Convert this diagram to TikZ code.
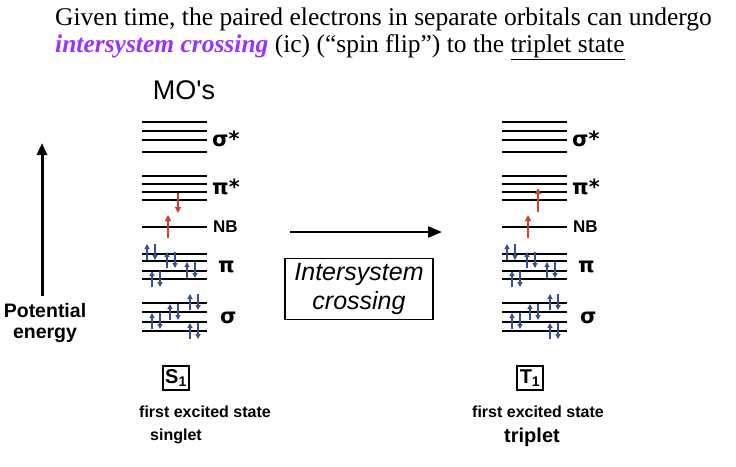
\documentclass[tikz,border=0pt]{standalone}
\usepackage{fontspec}
\setmainfont{Liberation Serif}
\newfontfamily\arial{Liberation Sans}
\newfontfamily\dejav{DejaVu Sans}
\usetikzlibrary{arrows.meta}
\definecolor{purp}{HTML}{9933FF}
\definecolor{eblue}{HTML}{3A4F8C}
\definecolor{ered}{HTML}{D0402A}
\tikzset{
 mo/.style={line width=2.8pt},
 ebl/.style={eblue,line width=1.6pt,-{Triangle[length=5pt,width=5pt]}},
 erd/.style={ered,line width=1.5pt,-{Triangle[length=6pt,width=6pt]}},
 lab/.style={font=\dejav\bfseries\fontsize{21}{22}\selectfont,anchor=west,inner sep=0pt},
 labb/.style={font=\arial\bfseries\fontsize{17}{18}\selectfont,anchor=west,inner sep=0pt},
 captxt/.style={font=\arial\bfseries\fontsize{16}{19}\selectfont,align=center},
 sbox/.style={draw,line width=1.8pt,font=\arial\bfseries\fontsize{20}{22}\selectfont,inner sep=2pt,minimum width=26pt,minimum height=24pt}
}
\newcommand{\mostack}[2]{%
 \begin{scope}[shift={(#1,0)}]
 \foreach \y in {122,131,140,152,176,184,192,200,227,254,261,271,279,303,312,322,331} \draw[mo] (142,\y) -- (207,\y);
 \node[lab] (s#2) at (212,139) {σ*};
 \node[lab] (p#2) at (212,187) {π*};
 \node[labb] (n#2) at (213,227) {NB};
 \node[lab] (pi#2) at (218,267) {π};
 \node[lab] (sg#2) at (220,318) {σ};
 \foreach \x/\a in {147/244,167/252,187/262,152/271,190/294,170/304,152/313,190/323}{
   \draw[ebl] (\x,\a+16) -- (\x,\a);
   \draw[ebl] (\x+8,\a) -- (\x+8,\a+16);}
 \draw[erd] (168,238) -- (168,215);
 \end{scope}}
\begin{document}
\begin{tikzpicture}[x=1pt,y=-1pt]
\useasboundingbox (0,0) rectangle (736,466);
\node[anchor=west,inner sep=0pt,font=\fontsize{25.5}{28}\selectfont] (t1) at (55,19) {Given time, the paired electrons in separate orbitals can undergo};
\node[anchor=west,inner sep=0pt,font=\fontsize{25.5}{28}\selectfont] (t2) at (55,47) {\textcolor{purp}{\textbf{\textit{intersystem crossing}}} (ic) (“spin flip”) to the \underline{triplet state}};
\node[font=\arial\fontsize{27}{30}\selectfont] (mo) at (184,90) {MO's};
\mostack{0}{L}
\mostack{360}{R}
\draw[erd] (178,193) -- (178,213);
\draw[erd] (538,212) -- (538,188);
\coordinate (ea) at (42,296);
\coordinate (eb) at (42,143);
\draw[line width=3pt,-{Triangle[length=12pt,width=10pt]}] (ea) -- (eb);
\node[captxt,font=\arial\bfseries\fontsize{19.5}{21}\selectfont] (pe) at (45,323) {Potential\\energy};
\coordinate (ha) at (290,232);
\coordinate (hb) at (442,232);
\draw[line width=2.6pt,-{Triangle[length=14pt,width=11pt]}] (ha) -- (hb);
\node[draw,line width=1.2pt,font=\arial\itshape\fontsize{25}{29}\selectfont,align=center,minimum width=148pt,minimum height=61pt] (ic) at (359,289) {Intersystem\\crossing};
\node[sbox] (S1) at (176,378) {S\textsubscript{1}};
\node[sbox] (T1) at (530,378) {T\textsubscript{1}};
\node[captxt] (c1) at (205,412) {first excited state};
\node[captxt] (c2) at (176,436) {singlet};
\node[captxt] (c3) at (538,412) {first excited state};
\node[captxt,font=\arial\bfseries\fontsize{20}{22}\selectfont] (c4) at (532,437) {triplet};
\end{tikzpicture}
\end{document}
